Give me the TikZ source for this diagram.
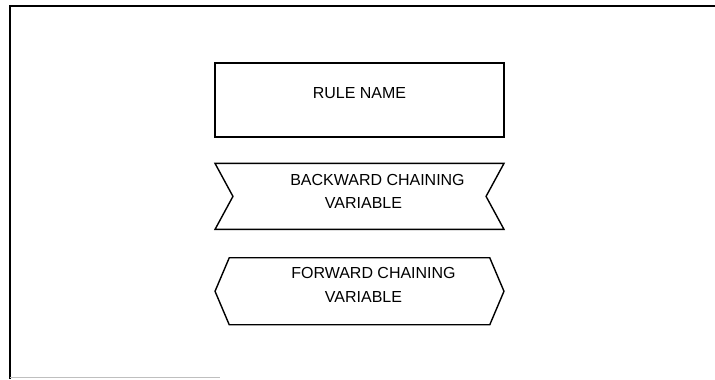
\documentclass[tikz,border=0pt]{standalone}
\usepackage{fontspec}
\setmainfont{Liberation Sans}
\usetikzlibrary{positioning, shapes.symbols}
\tikzset{
    frame/.style={line width=1.3pt},
    box/.style={draw, line width=0.8pt, minimum width=5.78cm, inner sep=0pt,
      align=center, font=\fontsize{9.1}{13.6}\selectfont},
    rulebox/.style={box, rectangle, minimum height=1.48cm, text depth=0.28cm},
    backbox/.style={box, signal, signal to=nowhere, signal from=west and east,
      signal pointer angle=123, minimum height=1.32cm, text depth=0.2cm},
    fwdbox/.style={box, signal, signal to=west and east, signal pointer angle=134,
      minimum height=1.34cm, text depth=0.24cm},
}

\begin{document}
\begin{tikzpicture}[x=0.02cm, y=-0.02cm]
    \useasboundingbox (0,0) rectangle (715,379);

    % outer frame (open on the right)
    \coordinate (tl) at (10,6);
    \coordinate (tr) at (715,6);
    \coordinate (bl) at (10,379);
    \draw[frame] (tr) -- (tl) -- (bl);
    \draw[gray!50, line width=0.5pt] (10,377) -- (220,377);

    \node[rulebox] (rule) at (359.5,100) {RULE NAME};
    \node[backbox, below=0.5cm of rule] (back)
      {\hspace*{0.72cm}BACKWARD CHAINING\\\hspace*{0.16cm}VARIABLE};
    \node[fwdbox, below=0.54cm of back] (fwd)
      {\hspace*{0.56cm}FORWARD CHAINING\\\hspace*{0.16cm}VARIABLE};
\end{tikzpicture}
\end{document}
